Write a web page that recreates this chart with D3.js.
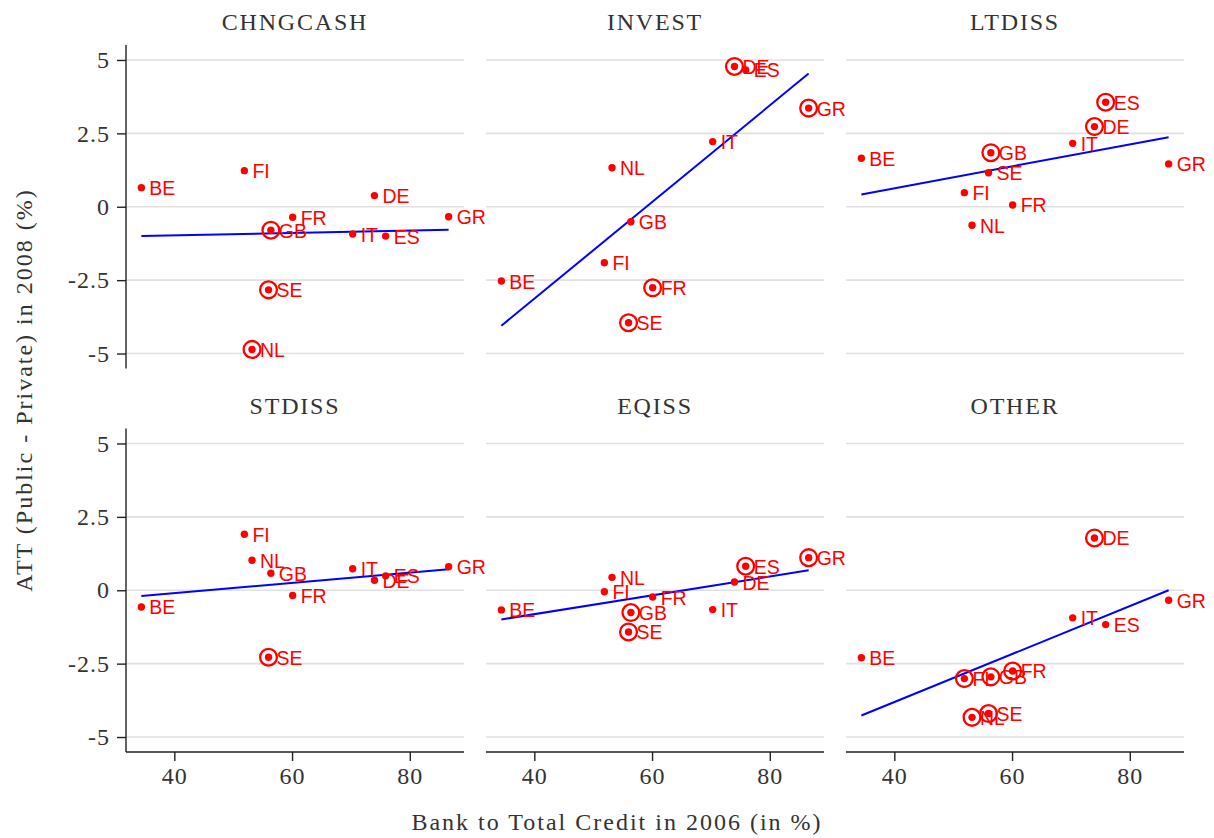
<!DOCTYPE html>
<html>
<head>
<meta charset="utf-8">
<script src="https://cdn.jsdelivr.net/npm/d3@7"></script>
<style>
  body { margin: 0; background: #fff; }
  svg { display: block; }
  .serif { font-family: "Liberation Serif", "Times New Roman", serif; fill: #333; }
  .lab { font-family: "Liberation Sans", Arial, sans-serif; fill: #ff0000; font-size: 19.5px; }
</style>
</head>
<body>
<div id="chart"></div>
<script>
// countries and their bank share of total credit (x), same in every panel
const countries = ["BE", "FI", "NL", "SE", "GB", "FR", "IT", "DE", "ES", "GR"];
const bankShare = [34.4, 51.9, 53.2, 56.0, 56.4, 60.1, 70.3, 74.0, 75.9, 86.6];

// panel names
const panelNames = ["CHNGCASH", "INVEST", "LTDISS", "STDISS", "EQISS", "OTHER"];

// ATT per panel, in the order of `countries`
const attChngcash = [0.65, 1.23, -4.86, -2.83, -0.80, -0.36, -0.93, 0.38, -1.00, -0.34];
const attInvest   = [-2.53, -1.91, 1.33, -3.95, -0.51, -2.76, 2.22, 4.78, 4.66, 3.36];
const attLtdiss   = [1.65, 0.48, -0.63, 1.16, 1.84, 0.06, 2.16, 2.73, 3.56, 1.46];
const attStdiss   = [-0.57, 1.91, 1.02, -2.28, 0.58, -0.18, 0.73, 0.34, 0.49, 0.80];
const attEqiss    = [-0.67, -0.05, 0.44, -1.42, -0.76, -0.23, -0.66, 0.28, 0.82, 1.11];
const attOther    = [-2.30, -3.01, -4.33, -4.20, -2.95, -2.75, -0.94, 1.78, -1.17, -0.34];

// significant estimates (circled)
const sigChngcash = ["NL", "SE", "GB"];
const sigInvest   = ["DE", "GR", "FR", "SE"];
const sigLtdiss   = ["GB", "DE", "ES"];
const sigStdiss   = ["SE"];
const sigEqiss    = ["ES", "GR", "GB", "SE"];
const sigOther    = ["DE", "FI", "NL", "SE", "GB", "FR"];

const attValues = [attChngcash, attInvest, attLtdiss, attStdiss, attEqiss, attOther];
const sigValues = [sigChngcash, sigInvest, sigLtdiss, sigStdiss, sigEqiss, sigOther];

const yTicks = [5, 2.5, 0, -2.5, -5];
const xTicks = [40, 60, 80];

const W = 1214, H = 838;
const panelW = 338, panelH = 323.5;
const colX = [126, 486, 846];
const rowY = [45, 428.5];

const svg = d3.select("#chart").append("svg")
    .attr("width", W)
    .attr("height", H);

// shared scales (panel-local coordinates)
const xExt = d3.extent(bankShare);
const pad = (xExt[1] - xExt[0]) * 0.05;
const x = d3.scaleLinear().domain([xExt[0] - pad, xExt[1] + pad]).range([0, panelW]);
const y = d3.scaleLinear().domain([-5.51, 5.51]).range([panelH, 0]);

// least squares fit
function olsFit(xs, ys) {
    const mx = d3.mean(xs), my = d3.mean(ys);
    let sxy = 0, sxx = 0;
    xs.forEach((v, i) => { sxy += (v - mx) * (ys[i] - my); sxx += (v - mx) * (v - mx); });
    const b = sxy / sxx;
    return { a: my - b * mx, b: b };
}

function styleTicks(axisG) {
    axisG.select(".domain").attr("stroke", "#222").attr("stroke-width", 1.4);
    axisG.selectAll(".tick line").attr("stroke", "#222").attr("stroke-width", 1.4);
    axisG.selectAll(".tick text")
        .attr("class", "serif")
        .attr("fill", "#2b2b2b")
        .style("font-size", "24px")
        .style("font-family", "'Liberation Serif', serif")
        .style("letter-spacing", "1px");
}

panelNames.forEach((name, p) => {
    const col = p % 3, row = Math.floor(p / 3);
    const g = svg.append("g")
        .attr("transform", `translate(${colX[col]},${rowY[row]})`);

    // gridlines
    g.append("g")
        .selectAll("line")
        .data(yTicks)
        .enter()
        .append("line")
        .attr("x1", 0).attr("x2", panelW)
        .attr("y1", d => y(d)).attr("y2", d => y(d))
        .attr("stroke", "#e0e0e0")
        .attr("stroke-width", 1.6);

    // strip title
    g.append("text")
        .attr("class", "serif")
        .attr("x", panelW / 2)
        .attr("y", -15)
        .attr("text-anchor", "middle")
        .style("font-size", "24px")
        .style("letter-spacing", "1.8px")
        .text(name);

    const pts = countries.map((c, i) => ({
        id: c, x: bankShare[i], y: attValues[p][i], sig: sigValues[p].includes(c)
    }));

    // regression line
    const fit = olsFit(bankShare, attValues[p]);
    g.append("line")
        .attr("x1", x(xExt[0])).attr("y1", y(fit.a + fit.b * xExt[0]))
        .attr("x2", x(xExt[1])).attr("y2", y(fit.a + fit.b * xExt[1]))
        .attr("stroke", "#0000ff")
        .attr("stroke-width", 2);

    // points
    g.append("g")
        .selectAll("circle")
        .data(pts)
        .enter()
        .append("circle")
        .attr("cx", d => x(d.x))
        .attr("cy", d => y(d.y))
        .attr("r", 3.7)
        .attr("fill", "#ff0000");

    // circles around significant points
    g.append("g")
        .selectAll("circle")
        .data(pts.filter(d => d.sig))
        .enter()
        .append("circle")
        .attr("cx", d => x(d.x))
        .attr("cy", d => y(d.y))
        .attr("r", 8.4)
        .attr("fill", "none")
        .attr("stroke", "#ff0000")
        .attr("stroke-width", 2.3);

    // labels
    g.append("g")
        .selectAll("text")
        .data(pts)
        .enter()
        .append("text")
        .attr("class", "lab")
        .attr("x", d => x(d.x) + 8)
        .attr("y", d => y(d.y) + 7.5)
        .text(d => d.id);

    // left axis (first column only)
    if (col === 0) {
        const ay = g.append("g")
            .call(d3.axisLeft(y).tickValues(yTicks).tickSize(9).tickPadding(7)
                .tickFormat(d => String(d)));
        ay.select(".domain").attr("d", `M0,0V${panelH}`);
        styleTicks(ay);
    }

    // bottom axis (second row only)
    if (row === 1) {
        const ax = g.append("g")
            .attr("transform", `translate(0,${panelH})`)
            .call(d3.axisBottom(x).tickValues(xTicks).tickSize(9).tickPadding(6));
        ax.select(".domain").attr("d", `M0,0H${panelW}`);
        styleTicks(ax);
    }
});

// axis titles
svg.append("text")
    .attr("class", "serif")
    .attr("x", 617)
    .attr("y", 830)
    .attr("text-anchor", "middle")
    .style("font-size", "24px")
    .style("letter-spacing", "2px")
    .text("Bank to Total Credit in 2006 (in %)");

svg.append("text")
    .attr("class", "serif")
    .attr("transform", "translate(32,390) rotate(-90)")
    .attr("text-anchor", "middle")
    .style("font-size", "24px")
    .style("letter-spacing", "2px")
    .text("ATT (Public - Private) in 2008 (%)");
</script>
</body>
</html>
